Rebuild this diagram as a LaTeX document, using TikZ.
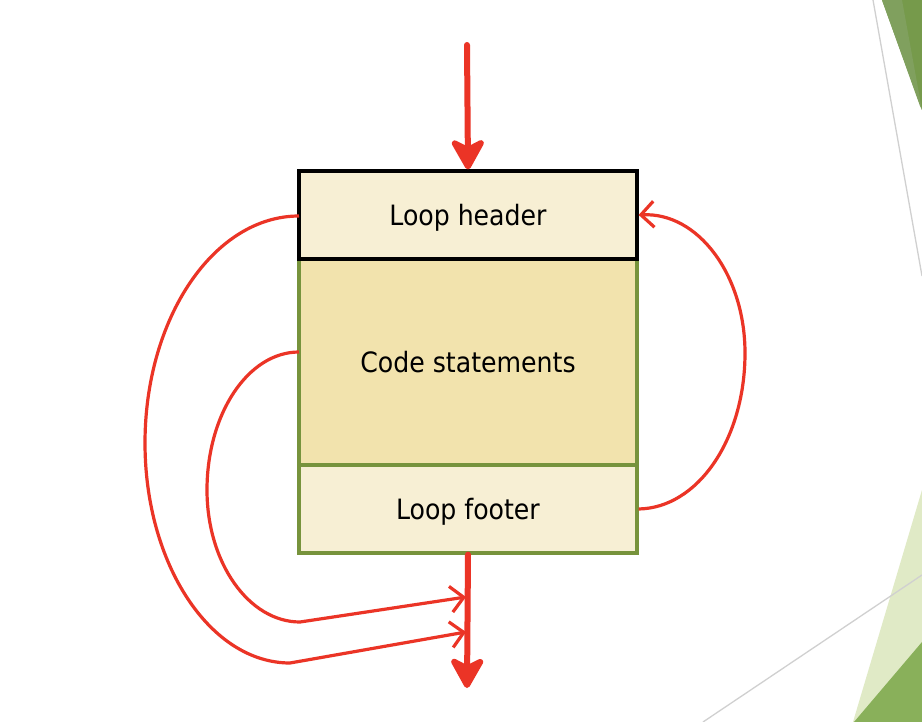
\documentclass[tikz,border=0pt]{standalone}
\usepackage{fontspec}
\setmainfont{DejaVu Sans Condensed}
\usetikzlibrary{arrows.meta}
\definecolor{hdrfill}{HTML}{F7EFD4}
\definecolor{codefill}{HTML}{F2E3AD}
\definecolor{boxgreen}{HTML}{77933C}
\definecolor{arrred}{HTML}{EB3426}
\definecolor{dkgreenA}{HTML}{80A05E}
\definecolor{dkgreenB}{HTML}{769A4B}
\definecolor{ltgreen}{HTML}{E0EAC6}
\definecolor{midgreen}{HTML}{89B05A}
\definecolor{decogray}{HTML}{D0D0D0}
\tikzset{
  blockbox/.style={rectangle, inner sep=0pt, minimum width=338pt, line width=3.2pt,
    font=\fontsize{28}{32}\selectfont, text=black, text height=20.4pt, text depth=0pt},
  bigarrow/.style={draw=arrred, line width=6pt, line cap=round,
    -{Stealth[length=36pt,width=40pt,inset=10pt,round]}},
  loopline/.style={draw=arrred, line width=3.2pt,
    -{Straight Barb[length=13pt,width=26pt,line width=3.2pt]}}
}
\begin{document}
\begin{tikzpicture}[x=1pt,y=-1pt]
\useasboundingbox (0,0) rectangle (922,722);
\fill[white] (0,0) rectangle (922,722);
% decorations
\fill[dkgreenB] (882,0) -- (922,0) -- (922,110) -- cycle;
\fill[dkgreenA] (882,0) -- (902,0) -- (922,110) -- (920,106) -- cycle;
\draw[decogray, line width=1.3pt] (873,0) -- (922,276);
\fill[ltgreen] (922,490) -- (922,722) -- (853,722) -- cycle;
\fill[midgreen] (922,642) -- (922,722) -- (854,722) -- cycle;
\draw[decogray, line width=1.3pt] (703,722) -- (922,575);
% blocks
\node[blockbox, draw=boxgreen, fill=codefill, minimum height=206pt] (code) at (468,362) {Code statements};
\node[blockbox, draw=boxgreen, fill=hdrfill, minimum height=88pt] (footer) at (468,509) {Loop footer};
\node[blockbox, draw=black, fill=hdrfill, minimum height=88pt] (header) at (468,215) {Loop header};
% coordinates
\coordinate (topstart) at (467,45);
\coordinate (botend) at (467,688);
\coordinate (outerstart) at (299,216);
\coordinate (innerstart) at (299,352);
\coordinate (outerend) at (466,632);
\coordinate (innerend) at (466,597);
% main arrows
\draw[bigarrow] (topstart) -- (header.north);
\draw[bigarrow] (footer.south) -- (botend);
% right loop
\draw[loopline] (footer.east) .. controls (698,508) and (745,439) .. (745,353)
  .. controls (745,275) and (698,212) .. (header.east);
% outer left loop
\draw[loopline] (outerstart) .. controls (214,216) and (145,318) .. (145,443)
  .. controls (145,564) and (210,663) .. (290,663) -- (outerend);
% inner left loop
\draw[loopline] (innerstart) .. controls (248,352) and (207,414) .. (207,490)
  .. controls (207,563) and (249,622) .. (300,622) -- (innerend);
\end{tikzpicture}
\end{document}
